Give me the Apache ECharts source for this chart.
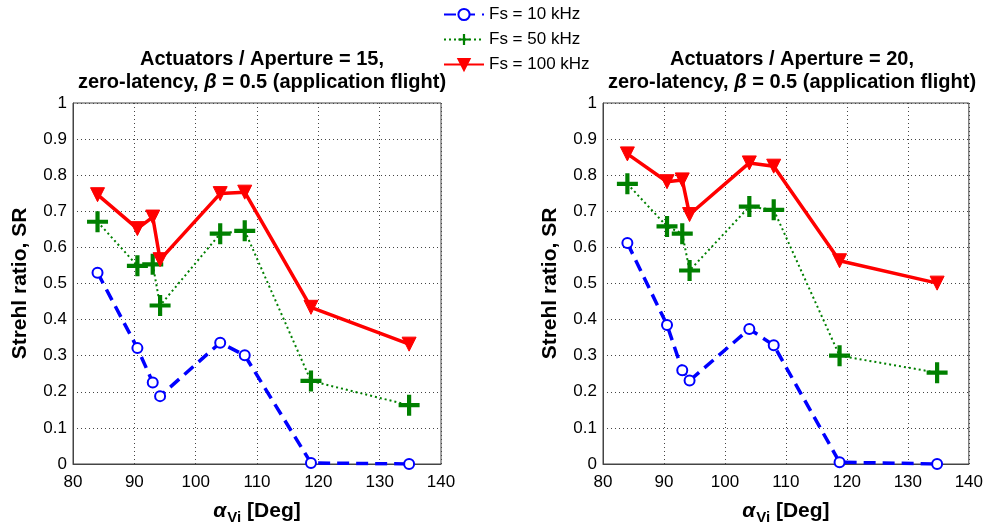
<!DOCTYPE html>
<html>
<head>
<meta charset="utf-8">
<script src="https://cdn.jsdelivr.net/npm/echarts@6/dist/echarts.min.js"></script>
<style>
  html, body { margin: 0; padding: 0; background: #fff; }
  #chart { width: 986px; height: 530px; }
</style>
</head>
<body>
<div id="chart"></div>
<script>
// Viewing angle alpha_Vi (deg) at which the Strehl ratio was evaluated
const angles = [84, 90.5, 93, 94.2, 104, 108, 118.8, 134.8];

// Actuators / Aperture = 15
const sr15_10k  = [0.530, 0.321, 0.226, 0.188, 0.336, 0.301, 0.003, 0.000];
const sr15_50k  = [0.671, 0.549, 0.553, 0.439, 0.638, 0.646, 0.230, 0.163];
const sr15_100k = [0.746, 0.652, 0.684, 0.566, 0.749, 0.753, 0.434, 0.332];

// Actuators / Aperture = 20
const sr20_10k  = [0.612, 0.385, 0.260, 0.231, 0.374, 0.329, 0.005, 0.000];
const sr20_50k  = [0.776, 0.658, 0.638, 0.536, 0.713, 0.704, 0.300, 0.253];
const sr20_100k = [0.859, 0.782, 0.787, 0.691, 0.834, 0.825, 0.563, 0.501];

const seriesNames = ['Fs = 10 kHz', 'Fs = 50 kHz', 'Fs = 100 kHz'];
const xTicks = { min: 80, max: 140, step: 10 };
const yTicks = { min: 0, max: 1, step: 0.1 };

const FONT = '"Liberation Sans", Arial, Helvetica, sans-serif';
const BLUE = '#0000ff', GREEN = '#008000', RED = '#ff0000';
const PLUS = 'path://M4,0h2v4h4v2h-4v4h-2v-4h-4v-2h4z';

const grids = [
  { left: 73, top: 103, width: 368, height: 366 },
  { left: 603, top: 103, width: 368, height: 366 }
];

function pairs(ys) { return angles.map((a, i) => [a, ys[i]]); }

function xAxisFor(idx) {
  return {
    gridIndex: idx, type: 'value',
    min: xTicks.min, max: xTicks.max, interval: xTicks.step,
    axisLine: { show: true, onZero: false, lineStyle: { color: '#444', width: 1 } },
    axisTick: { show: false },
    axisLabel: { color: '#000', fontSize: 17, fontFamily: FONT, margin: 10 },
    splitLine: { show: true, lineStyle: { color: '#444', type: [1, 3], width: 1 } },
    name: '{a|α}{s|Vi}{n| [Deg]}',
    nameLocation: 'middle', nameGap: 34,
    nameTextStyle: {
      rich: {
        a: { fontFamily: FONT, fontSize: 21, fontWeight: 'bold', fontStyle: 'italic', color: '#000' },
        s: { fontFamily: FONT, fontSize: 15, fontWeight: 'bold', color: '#000', padding: [12, 0, 0, 1] },
        n: { fontFamily: FONT, fontSize: 21, fontWeight: 'bold', color: '#000' }
      }
    }
  };
}

function yAxisFor(idx) {
  return {
    gridIndex: idx, type: 'value',
    min: yTicks.min, max: yTicks.max, interval: yTicks.step,
    axisLine: { show: true, lineStyle: { color: '#444', width: 1 } },
    axisTick: { show: false },
    axisLabel: { color: '#000', fontSize: 17, fontFamily: FONT, margin: 6 },
    splitLine: { show: true, lineStyle: { color: '#444', type: [1, 3], width: 1 } },
    name: 'Strehl ratio, SR',
    nameLocation: 'middle', nameGap: 42,
    nameTextStyle: { color: '#000', fontSize: 21, fontWeight: 'bold', fontFamily: FONT }
  };
}

function seriesFor(idx, d10, d50, d100) {
  return [
    {
      name: seriesNames[0], type: 'line', xAxisIndex: idx, yAxisIndex: idx,
      data: pairs(d10), symbol: 'emptyCircle', symbolSize: 10,
      lineStyle: { color: BLUE, width: 3.5, type: [12, 7] },
      itemStyle: { color: BLUE, borderColor: BLUE, borderWidth: 3 },
      z: 3
    },
    {
      name: seriesNames[1], type: 'line', xAxisIndex: idx, yAxisIndex: idx,
      data: pairs(d50), symbol: PLUS, symbolSize: 21,
      lineStyle: { color: GREEN, width: 2, type: [2, 3] },
      itemStyle: { color: GREEN, borderWidth: 0 },
      z: 4
    },
    {
      name: seriesNames[2], type: 'line', xAxisIndex: idx, yAxisIndex: idx,
      data: pairs(d100), symbol: 'triangle', symbolRotate: 180, symbolSize: 14,
      lineStyle: { color: RED, width: 3.5 },
      itemStyle: { color: RED, borderColor: RED, borderWidth: 1 },
      z: 5
    }
  ];
}

const titleStyle = {
  fontFamily: FONT, fontSize: 20, fontWeight: 'bold', color: '#000', lineHeight: 23,
  rich: {
    b: { fontFamily: FONT, fontSize: 20, fontWeight: 'bold', fontStyle: 'italic', color: '#000', lineHeight: 23 }
  }
};

const chart = echarts.init(document.getElementById('chart'), null, { renderer: 'canvas' });
chart.setOption({
  animation: false,
  backgroundColor: '#fff',
  title: [
    { text: 'Actuators / Aperture = 15,\nzero-latency, {b|β} = 0.5 (application flight)',
      left: 257, top: 43, textAlign: 'center', textStyle: titleStyle },
    { text: 'Actuators / Aperture = 20,\nzero-latency, {b|β} = 0.5 (application flight)',
      left: 787, top: 43, textAlign: 'center', textStyle: titleStyle }
  ],
  legend: {
    data: seriesNames, orient: 'vertical', left: 443, top: 6, padding: 0,
    itemWidth: 40, itemHeight: 14, itemGap: 8,
    textStyle: { fontFamily: FONT, fontSize: 17, color: '#000' },
    backgroundColor: '#fff'
  },
  grid: grids.map(g => Object.assign({ show: true, borderColor: '#444', borderWidth: 1, backgroundColor: 'transparent' }, g)),
  xAxis: [xAxisFor(0), xAxisFor(1)],
  yAxis: [yAxisFor(0), yAxisFor(1)],
  series: [
    ...seriesFor(0, sr15_10k, sr15_50k, sr15_100k),
    ...seriesFor(1, sr20_10k, sr20_50k, sr20_100k)
  ]
});
</script>
</body>
</html>
